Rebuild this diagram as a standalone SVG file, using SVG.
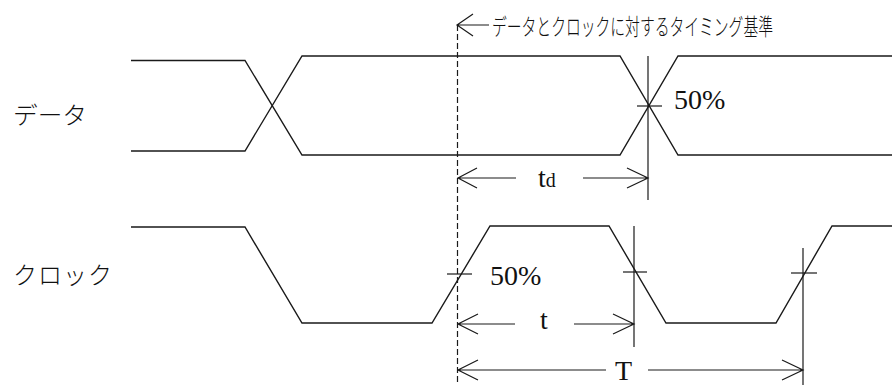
<svg xmlns="http://www.w3.org/2000/svg" width="892" height="385" viewBox="0 0 892 385">
<style>
.w{fill:none;stroke:#1a1a1a;stroke-width:1.4;stroke-linejoin:miter}
.a{fill:none;stroke:#1a1a1a;stroke-width:1.2}
.d{fill:none;stroke:#1a1a1a;stroke-width:1.2;stroke-dasharray:6,3}
.jp{font-family:"Noto Sans CJK JP","Noto Sans",sans-serif;fill:#111;font-weight:300}
.sf{font-family:"Liberation Serif","DejaVu Serif",serif;fill:#111;font-size:28px}
</style>
<rect width="892" height="385" fill="#fff"/>
<g id="labels">
<text class="jp" x="13" y="124" font-size="24" textLength="74" lengthAdjust="spacingAndGlyphs">データ</text>
<text class="jp" x="13" y="284" font-size="24" textLength="99" lengthAdjust="spacing">クロック</text>
<text class="jp" transform="translate(492,35) scale(1,1.55)" x="0" y="0" font-size="15" textLength="281" lengthAdjust="spacingAndGlyphs">データとクロックに対するタイミング基準</text>
</g>
<g id="data-wave">
<path class="w" d="M131,60.5 H245 L302,155 H620 L678,56 H892"/>
<path class="w" d="M131,151 H245 L302,56 H620 L678,155 H892"/>
</g>
<g id="clock-wave">
<path class="w" d="M131,227 H245 L302,323 H432 L490,226 H609 L666,323 H776 L832,226 H892"/>
</g>
<g id="reference-line">
<line class="d" x1="457.5" y1="25" x2="457.5" y2="385"/>
<path class="a" d="M457,25 H489 M473,14 L457,25 L473,36"/>
</g>
<g id="connectors">
<line class="a" x1="648" y1="56" x2="648" y2="200"/>
<line class="a" x1="637" y1="106" x2="662" y2="106"/>
<line class="a" x1="447" y1="274" x2="472" y2="274"/>
<line class="a" x1="634" y1="226" x2="634" y2="347"/>
<line class="a" x1="623" y1="272" x2="647" y2="272"/>
<line class="a" x1="803" y1="248" x2="803" y2="385"/>
<line class="a" x1="791" y1="273" x2="817" y2="273"/>
<path class="a" d="M458,178 H516 M477,168 L458,178 L477,188"/>
<path class="a" d="M583,178 H648 M627,168 L648,178 L627,188"/>
<path class="a" d="M458,324 H515 M478,314 L458,324 L478,334"/>
<path class="a" d="M574,324 H634 M613,314 L634,324 L613,334"/>
<path class="a" d="M458,370 H606 M478,360 L458,370 L478,380"/>
<path class="a" d="M648,370 H803 M782,360 L803,370 L782,380"/>
</g>
<g id="values">
<text class="sf" x="674" y="109">50%</text>
<text class="sf" x="490" y="285">50%</text>
<text class="sf" x="538" y="187">t<tspan font-size="20">d</tspan></text>
<text class="sf" x="540" y="329">t</text>
<text class="sf" x="615" y="380" font-size="27">T</text>
</g>
</svg>
